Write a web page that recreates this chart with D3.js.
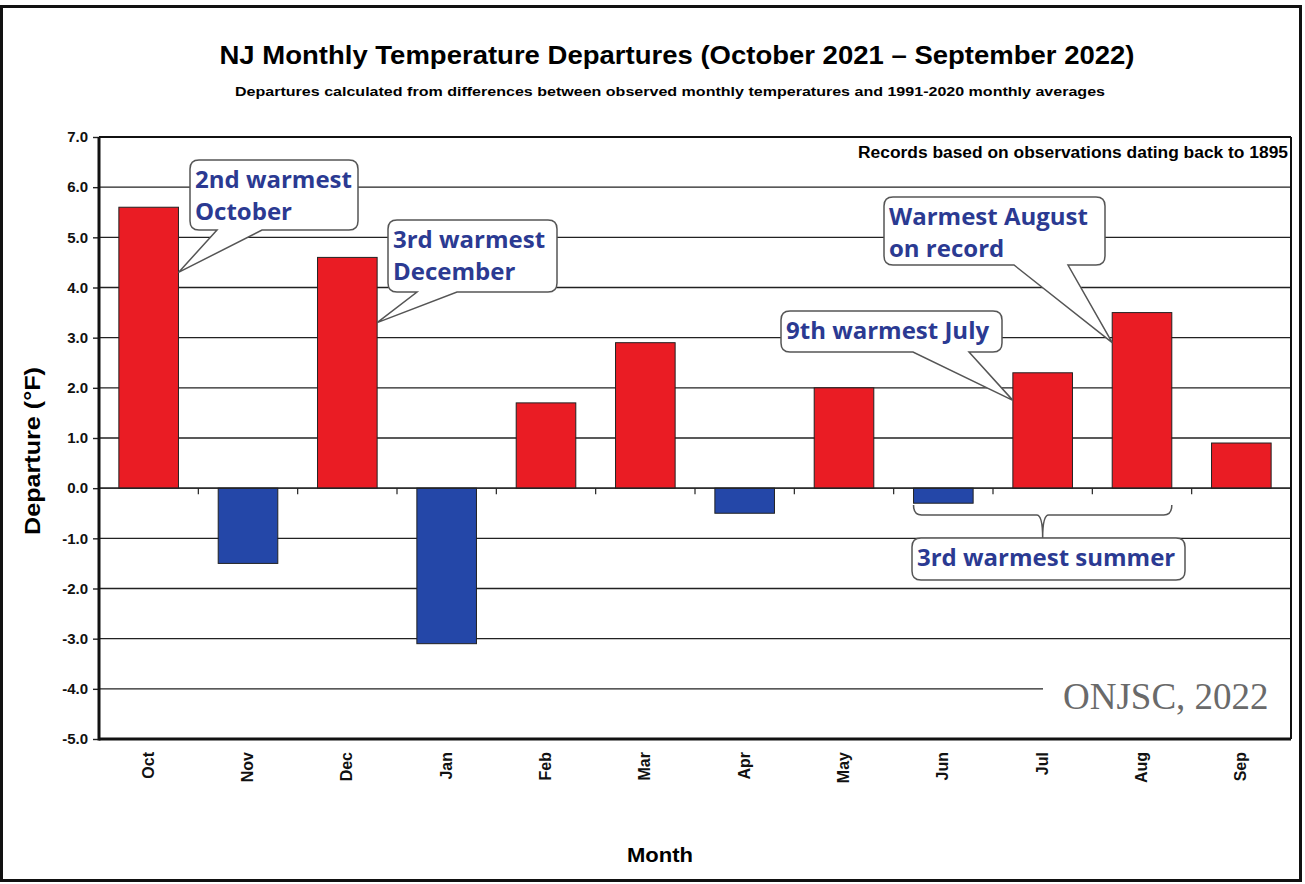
<!DOCTYPE html>
<html lang="en">
<head>
<meta charset="UTF-8">
<title>NJ Monthly Temperature Departures</title>
<script src="https://d3js.org/d3.v7.min.js"></script>
<style>
    body { margin: 0; background: #fff; }
    svg { display: block; font-family: "Liberation Sans", Arial, sans-serif; }
    .callout-text { font-family: "Open Sans", "Noto Sans", sans-serif; font-weight: 700; fill: #2b3a92; }
</style>
</head>
<body>
<svg width="1305" height="884"></svg>
<script>
    // data
    const months = ["Oct", "Nov", "Dec", "Jan", "Feb", "Mar", "Apr", "May", "Jun", "Jul", "Aug", "Sep"];
    const departures = [5.6, -1.5, 4.6, -3.1, 1.7, 2.9, -0.5, 2.0, -0.3, 2.3, 3.5, 0.9];
    const yTicks = [-5, -4, -3, -2, -1, 0, 1, 2, 3, 4, 5, 6, 7];

    const svg = d3.select("svg");
    const plotLeft = 99, plotRight = 1291, plotTop = 137, plotBottom = 739;

    const x = d3.scaleBand().domain(months).range([plotLeft, plotRight]).paddingInner(0.4).paddingOuter(0.2);
    const y = d3.scaleLinear().domain([-5, 7]).range([plotBottom, plotTop]);

    // outer frame
    svg.append("rect").attr("x", 1.5).attr("y", 6.5).attr("width", 1299).attr("height", 874)
        .attr("fill", "#fff").attr("stroke", "#111").attr("stroke-width", 3);

    // titles
    svg.append("text").attr("x", 677).attr("y", 64).attr("text-anchor", "middle")
        .attr("font-size", 25).attr("font-weight", 700).attr("textLength", 915).attr("lengthAdjust", "spacingAndGlyphs")
        .text("NJ Monthly Temperature Departures (October 2021 \u2013 September 2022)");
    svg.append("text").attr("x", 670).attr("y", 96).attr("text-anchor", "middle")
        .attr("font-size", 13).attr("font-weight", 700).attr("textLength", 870).attr("lengthAdjust", "spacingAndGlyphs")
        .text("Departures calculated from differences between observed monthly temperatures and 1991-2020 monthly averages");

    // gridlines
    svg.append("g").selectAll("line").data(yTicks).join("line")
        .attr("x1", plotLeft).attr("x2", plotRight)
        .attr("y1", d => y(d)).attr("y2", d => y(d))
        .attr("stroke", "#222").attr("stroke-width", 1.4);

    // y axis
    const fmt = d3.format(".1f");
    const yAxis = svg.append("g").attr("transform", `translate(${plotLeft},0)`)
        .call(d3.axisLeft(y).tickValues(yTicks).tickFormat(d => fmt(d).replace("\u2212", "-")).tickSize(6).tickPadding(5));
    yAxis.select(".domain").remove();
    yAxis.selectAll("line").attr("stroke", "#222").attr("stroke-width", 1.4);
    yAxis.selectAll("text").attr("font-size", 15).attr("font-weight", 700).attr("fill", "#111")
        .attr("font-family", "Liberation Sans, Arial, sans-serif");

    // bars
    svg.append("g").selectAll("rect").data(departures).join("rect")
        .attr("x", (d, i) => x(months[i]))
        .attr("width", x.bandwidth())
        .attr("y", d => y(Math.max(0, d)))
        .attr("height", d => Math.abs(y(d) - y(0)))
        .attr("fill", d => d >= 0 ? "#ea1c24" : "#2447a8")
        .attr("stroke", "#222").attr("stroke-width", 1);

    // zero axis with category ticks
    svg.append("line").attr("x1", plotLeft).attr("x2", plotRight).attr("y1", y(0)).attr("y2", y(0))
        .attr("stroke", "#222").attr("stroke-width", 1.4);
    svg.append("g").selectAll("line").data(months.slice(1)).join("line")
        .attr("x1", d => x(d) - x.step() * x.paddingInner() / 2)
        .attr("x2", d => x(d) - x.step() * x.paddingInner() / 2)
        .attr("y1", y(0)).attr("y2", y(0) + 6)
        .attr("stroke", "#222").attr("stroke-width", 1.2);

    // plot border
    svg.append("line").attr("x1", plotLeft).attr("x2", plotRight).attr("y1", plotTop).attr("y2", plotTop)
        .attr("stroke", "#111").attr("stroke-width", 2);
    svg.append("line").attr("x1", plotRight).attr("x2", plotRight).attr("y1", plotTop).attr("y2", plotBottom)
        .attr("stroke", "#111").attr("stroke-width", 2);
    svg.append("line").attr("x1", plotLeft).attr("x2", plotLeft).attr("y1", plotTop).attr("y2", plotBottom + 1.5)
        .attr("stroke", "#111").attr("stroke-width", 3);
    svg.append("line").attr("x1", plotLeft).attr("x2", plotRight).attr("y1", plotBottom).attr("y2", plotBottom)
        .attr("stroke", "#111").attr("stroke-width", 3);

    // x tick labels
    svg.append("g").selectAll("text").data(months).join("text")
        .attr("transform", d => `translate(${x(d) + x.bandwidth() / 2 + 5},752) rotate(-90)`)
        .attr("text-anchor", "end")
        .attr("font-size", 16).attr("font-weight", 700).attr("fill", "#111")
        .text(d => d);

    // axis titles
    svg.append("text").attr("transform", "translate(40,451) rotate(-90)").attr("text-anchor", "middle")
        .attr("font-size", 22).attr("font-weight", 700).attr("textLength", 168).attr("lengthAdjust", "spacingAndGlyphs")
        .text("Departure (\u00b0F)");
    svg.append("text").attr("x", 660).attr("y", 862).attr("text-anchor", "middle")
        .attr("font-size", 21).attr("font-weight", 700).attr("textLength", 66).attr("lengthAdjust", "spacingAndGlyphs")
        .text("Month");

    svg.append("text").attr("x", 1288).attr("y", 158).attr("text-anchor", "end")
        .attr("font-size", 16).attr("font-weight", 700).attr("textLength", 430).attr("lengthAdjust", "spacingAndGlyphs")
        .text("Records based on observations dating back to 1895");

    // callouts
    function calloutPath(x0, y0, x1, y1, r, ta, tb, tip) {
        let p = `M${x0 + r},${y0} H${x1 - r} Q${x1},${y0} ${x1},${y0 + r} V${y1 - r} Q${x1},${y1} ${x1 - r},${y1}`;
        if (tip) p += ` H${tb} L${tip[0]},${tip[1]} L${ta},${y1}`;
        p += ` H${x0 + r} Q${x0},${y1} ${x0},${y1 - r} V${y0 + r} Q${x0},${y0} ${x0 + r},${y0} Z`;
        return p;
    }

    const callouts = [
        { lines: ["2nd warmest", "October"], box: [190, 160, 358, 230], tail: [217, 262], tip: [x("Oct") + x.bandwidth(), y(4.3)] },
        { lines: ["3rd warmest", "December"], box: [388, 220, 557, 292], tail: [417, 457], tip: [x("Dec") + x.bandwidth(), y(3.3)] },
        { lines: ["Warmest August", "on record"], box: [884, 197, 1105, 265], tail: [1014, 1068], tip: [x("Aug"), y(2.9)] },
        { lines: ["9th warmest July"], box: [781, 311, 1002, 352], tail: [913, 969], tip: [x("Jul"), y(1.75)] },
        { lines: ["3rd warmest summer"], box: [912, 538, 1185, 580], tail: null, tip: null }
    ];

    callouts.forEach(c => {
        const [x0, y0, x1, y1] = c.box;
        svg.append("path")
            .attr("d", calloutPath(x0, y0, x1, y1, 9, c.tail && c.tail[0], c.tail && c.tail[1], c.tip))
            .attr("fill", "#fff").attr("stroke", "#555").attr("stroke-width", 1.5);
        c.lines.forEach((t, i) => {
            svg.append("text").attr("class", "callout-text")
                .attr("x", x0 + 5).attr("y", y0 + 28 + i * 32)
                .attr("font-size", 24)
                .text(t);
        });
    });

    // brace for summer months
    const bx0 = x("Jun"), bx1 = x("Aug") + x.bandwidth(), bm = (bx0 + bx1) / 2;
    svg.append("path")
        .attr("d", `M${bx0},505 Q${bx0},515 ${bx0 + 8},515 H${bm - 6} Q${bm},515 ${bm},538 Q${bm},515 ${bm + 6},515 H${bx1 - 8} Q${bx1},515 ${bx1},505`)
        .attr("fill", "none").attr("stroke", "#555").attr("stroke-width", 1.5);

    // watermark
    svg.append("rect").attr("x", 1043).attr("y", 676).attr("width", 247).attr("height", 44).attr("fill", "#fff");
    svg.append("text").attr("x", 1063).attr("y", 709)
        .attr("font-family", "Liberation Serif, serif").attr("font-size", 37).attr("fill", "#6a6a6a")
        .text("ONJSC, 2022");
</script>
</body>
</html>
